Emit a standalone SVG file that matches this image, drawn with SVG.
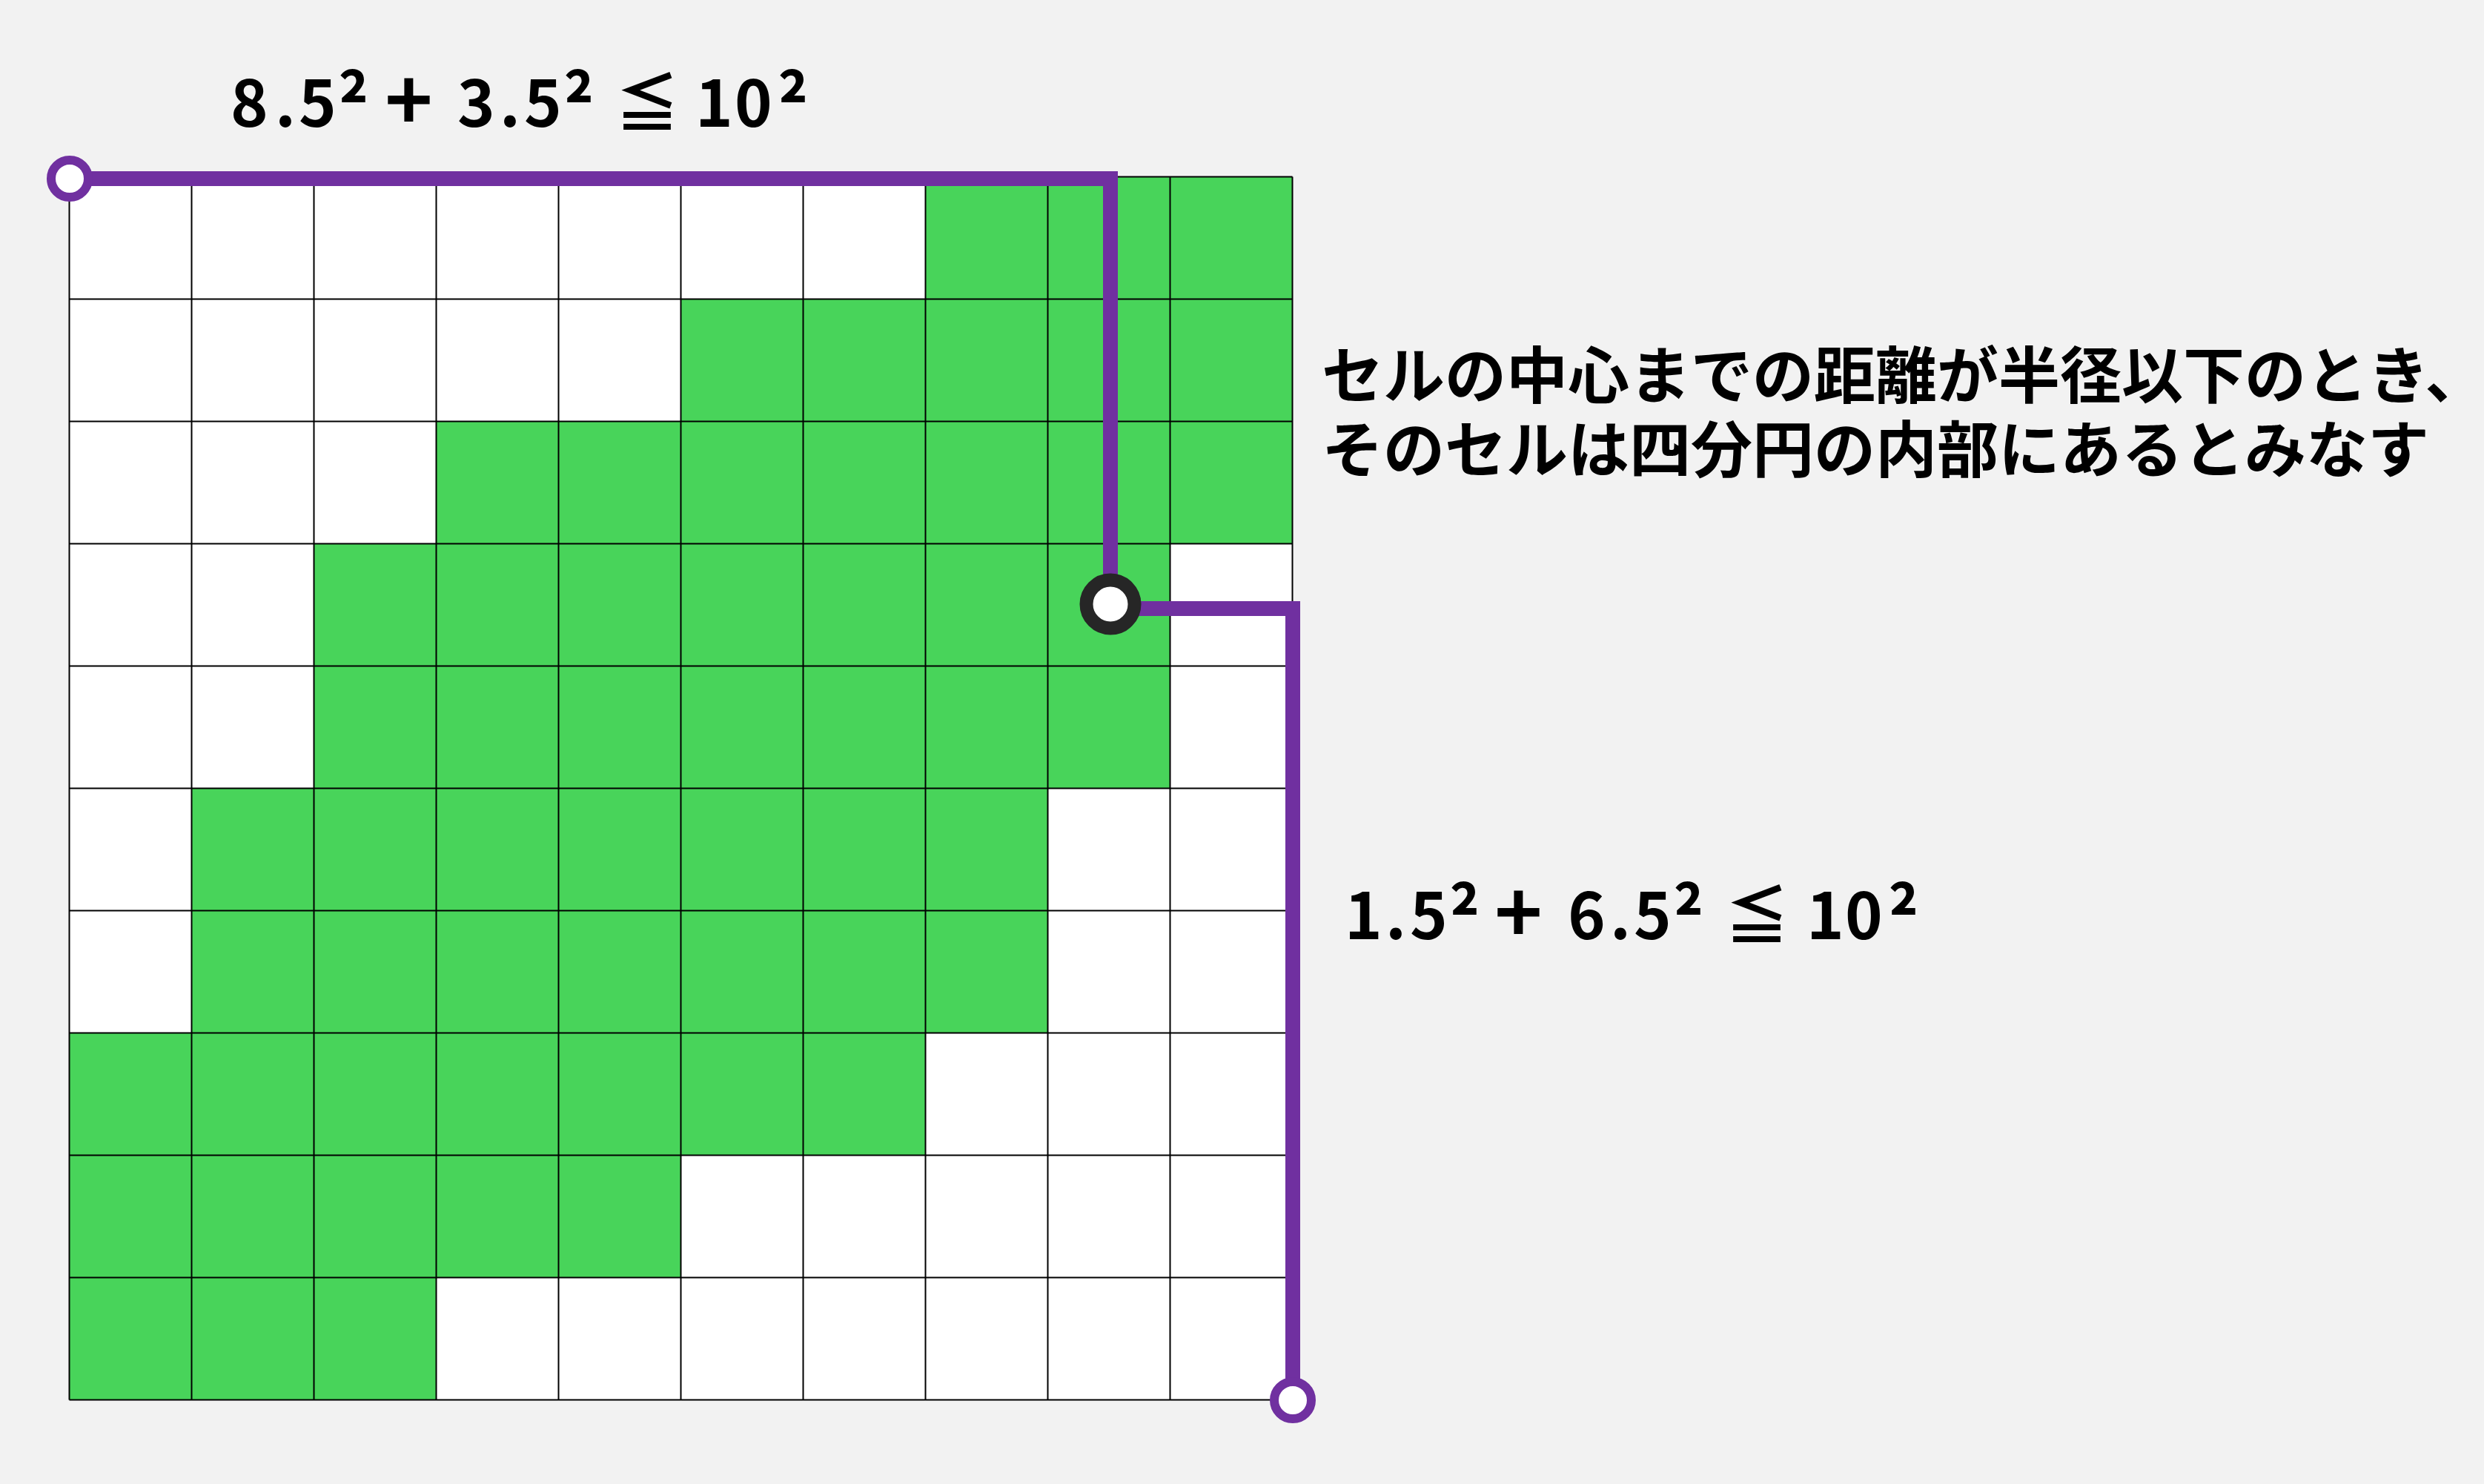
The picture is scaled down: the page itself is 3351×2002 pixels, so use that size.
<svg xmlns="http://www.w3.org/2000/svg" width="3351" height="2002" viewBox="0 0 3351 2002">
<style>
.bg{fill:#F2F2F2}
.cellw{fill:#FFFFFF}
.cellg{fill:#48D45A}
.grid{fill:none;stroke:#000;stroke-width:2}
.conn{fill:none;stroke:#7030A0;stroke-width:20;stroke-linejoin:miter;stroke-linecap:butt}
.endp{fill:#FFFFFF;stroke:#7030A0;stroke-width:12}
.pt{fill:#FFFFFF;stroke:#262626;stroke-width:18}
.f{font-family:"Noto Sans CJK JP","Noto Sans",sans-serif;font-weight:700;fill:#000}
.fm{font-size:86px}
.sup{font-size:98px}
.pl{font-size:110px}
.jp{font-size:83px}
</style>
<rect class="bg" x="0" y="0" width="3351" height="2002"/>
<g id="grid">
<rect class="cellw" x="93.5" y="238.5" width="1650" height="1650"/>
<rect class="cellg" x="1248.5" y="238.5" width="495" height="165"/>
<rect class="cellg" x="918.5" y="403.5" width="825" height="165"/>
<rect class="cellg" x="588.5" y="568.5" width="1155" height="165"/>
<rect class="cellg" x="423.5" y="733.5" width="1155" height="165"/>
<rect class="cellg" x="423.5" y="898.5" width="1155" height="165"/>
<rect class="cellg" x="258.5" y="1063.5" width="1155" height="165"/>
<rect class="cellg" x="258.5" y="1228.5" width="1155" height="165"/>
<rect class="cellg" x="93.5" y="1393.5" width="1155" height="165"/>
<rect class="cellg" x="93.5" y="1558.5" width="825" height="165"/>
<rect class="cellg" x="93.5" y="1723.5" width="495" height="165"/>
<path class="grid" d="M93.5 238.5V1888.5M258.5 238.5V1888.5M423.5 238.5V1888.5M588.5 238.5V1888.5M753.5 238.5V1888.5M918.5 238.5V1888.5M1083.5 238.5V1888.5M1248.5 238.5V1888.5M1413.5 238.5V1888.5M1578.5 238.5V1888.5M1743.5 238.5V1888.5M93.5 238.5H1743.5M93.5 403.5H1743.5M93.5 568.5H1743.5M93.5 733.5H1743.5M93.5 898.5H1743.5M93.5 1063.5H1743.5M93.5 1228.5H1743.5M93.5 1393.5H1743.5M93.5 1558.5H1743.5M93.5 1723.5H1743.5M93.5 1888.5H1743.5"/>
</g>
<g id="connectors">
<polyline class="conn" points="94,241 1498,241 1498,815"/>
<polyline class="conn" points="1498,821 1744,821 1744,1889"/>
</g>
<g id="start-point">
<circle class="endp" cx="94" cy="241" r="25"/>
</g>
<g id="cell-center">
<circle class="pt" cx="1498" cy="815" r="32.5"/>
</g>
<g id="end-point">
<circle class="endp" cx="1744" cy="1889" r="25"/>
</g>
<g id="label-top">
<text class="f fm" y="171"><tspan x="311 371 403" y="171">8.5</tspan><tspan class="sup" x="456" y="180">²</tspan> <tspan class="pl" x="519" y="176">+</tspan> <tspan x="617 674 707" y="171">3.5</tspan><tspan class="sup" x="760" y="180">²</tspan> <tspan x="830" y="171">≦</tspan> <tspan x="938 991" y="171">10</tspan><tspan class="sup" x="1049" y="180">²</tspan></text>
</g>
<g id="label-right">
<text class="f fm" y="1267"><tspan x="1814 1869 1902" y="1267">1.5</tspan><tspan class="sup" x="1955" y="1276">²</tspan> <tspan class="pl" x="2016" y="1272">+</tspan> <tspan x="2115 2172 2204" y="1267">6.5</tspan><tspan class="sup" x="2257" y="1276">²</tspan> <tspan x="2327" y="1267">≦</tspan> <tspan x="2437 2489" y="1267">10</tspan><tspan class="sup" x="2547" y="1276">²</tspan></text>
</g>
<g id="note">
<text class="f jp" x="1783" y="537">セルの中心までの距離が半径以下のとき、</text>
<text class="f jp" x="1783" y="637">そのセルは四分円の内部にあるとみなす</text>
</g>
</svg>
